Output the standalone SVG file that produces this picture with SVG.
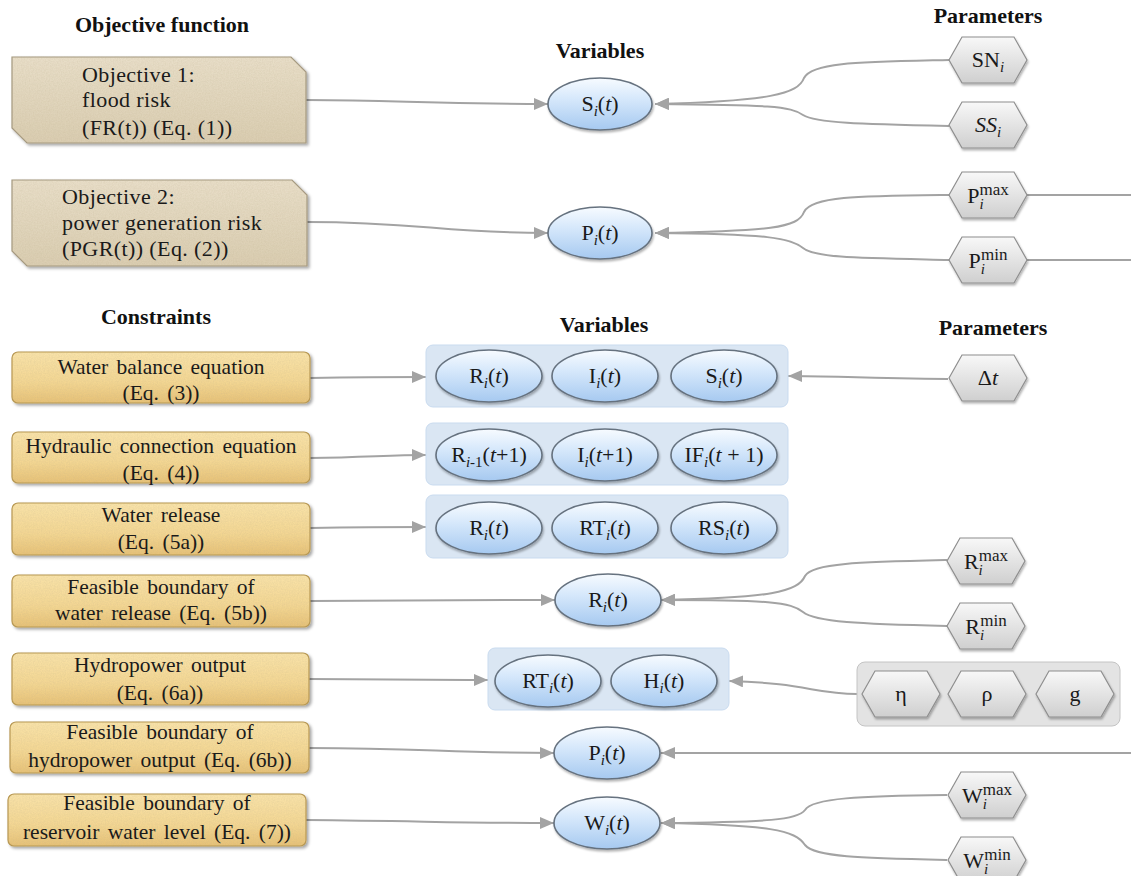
<svg xmlns="http://www.w3.org/2000/svg" width="1131" height="876" viewBox="0 0 1131 876">
<defs>
<style>
.h{font:bold 22px "Liberation Serif",serif;fill:#111;text-anchor:middle}
.t{font:22px "Liberation Serif",serif;fill:#1a1a1a;letter-spacing:0.4px}
.c{font:21.5px "Liberation Serif",serif;fill:#1a1a1a;text-anchor:middle;word-spacing:3px}
.v{font:22px "Liberation Serif",serif;fill:#1a1a1a;text-anchor:middle}
.it{font-style:italic}
.s{font-size:15px}
.u{font-size:17px}
.obj{fill:url(#gObj);stroke:#a49880;stroke-width:1.2;filter:url(#paper)}
.con{fill:url(#gCon);stroke:#b8974f;stroke-width:1.2;filter:url(#paper)}
.ell{fill:url(#gEll);stroke:#66727f;stroke-width:1.6;filter:url(#sh)}
.grp{fill:#dae6f3;stroke:#c9dbef;stroke-width:1}
.hex{fill:url(#gHex);stroke:#8e8e8e;stroke-width:1.2;filter:url(#sh)}
.pg{fill:#e3e3e3;stroke:#c4c4c4;stroke-width:1}
.ln{fill:none;stroke:#a3a3a3;stroke-width:2}
.ar{marker-end:url(#ah)}
</style>
<linearGradient id="gObj" x1="0" y1="0" x2="0" y2="1"><stop offset="0" stop-color="#e8dec8"/><stop offset="1" stop-color="#dacdb1"/></linearGradient>
<linearGradient id="gCon" x1="0" y1="0" x2="0" y2="1"><stop offset="0" stop-color="#f9e3a9"/><stop offset="0.6" stop-color="#f3d692"/><stop offset="1" stop-color="#e6c176"/></linearGradient>
<linearGradient id="gEll" x1="0" y1="0" x2="0" y2="1"><stop offset="0" stop-color="#f7fbff"/><stop offset="0.4" stop-color="#d6e8fb"/><stop offset="1" stop-color="#a6c9f0"/></linearGradient>
<linearGradient id="gHex" x1="0" y1="0" x2="0" y2="1"><stop offset="0" stop-color="#f8f8f8"/><stop offset="1" stop-color="#cfcfcf"/></linearGradient>
<filter id="sh" x="-10%" y="-15%" width="125%" height="140%">
<feGaussianBlur in="SourceAlpha" stdDeviation="1.2"/><feOffset dx="1" dy="2" result="o"/>
<feFlood flood-color="#000" flood-opacity="0.3"/><feComposite in2="o" operator="in" result="s"/>
<feMerge><feMergeNode in="s"/><feMergeNode in="SourceGraphic"/></feMerge>
</filter>
<filter id="paper" x="-5%" y="-10%" width="112%" height="130%">
<feTurbulence type="fractalNoise" baseFrequency="0.75" numOctaves="3" seed="4" result="n"/>
<feColorMatrix in="n" type="matrix" values="0 0 0 0 0.5 0 0 0 0 0.42 0 0 0 0 0.25 0 0 0 0.4 -0.12" result="c"/>
<feComposite in="c" in2="SourceAlpha" operator="in" result="tex"/>
<feGaussianBlur in="SourceAlpha" stdDeviation="1.5"/><feOffset dx="1.5" dy="2" result="o"/>
<feFlood flood-color="#000" flood-opacity="0.35"/><feComposite in2="o" operator="in" result="shadow"/>
<feMerge><feMergeNode in="shadow"/><feMergeNode in="SourceGraphic"/><feMergeNode in="tex"/></feMerge>
</filter>
<marker id="ah" viewBox="0 0 14 12" refX="14" refY="6" markerWidth="14" markerHeight="12" markerUnits="userSpaceOnUse" orient="auto"><path d="M0,0 L14,6 L0,12 Z" fill="#a3a3a3"/></marker>
<polygon id="hexs" points="-39,0 -26,-23 26,-23 39,0 26,23 -26,23"/>
</defs>
<rect width="1131" height="876" fill="#fff"/>

<g id="headings">
<text class="h" x="162" y="32">Objective function</text>
<text class="h" x="600" y="58">Variables</text>
<text class="h" x="988" y="23">Parameters</text>
<text class="h" x="156" y="324">Constraints</text>
<text class="h" x="604" y="332">Variables</text>
<text class="h" x="993" y="335">Parameters</text>
</g>

<g id="connectors">
<path class="ln ar" d="M306,100 C400,100 420,104 548,104"/>
<path class="ln ar" d="M307,222 C420,222 440,233 548,233"/>
<path class="ln ar" d="M949,60 C860,62 812,62 804,78 C798,94 770,101 655,104"/>
<path class="ln ar" d="M949,126 C860,124 815,123 803,115 C790,106 770,105 655,104"/>
<path class="ln ar" d="M949,195 C860,196 812,196 804,212 C798,228 770,231 655,233"/>
<path class="ln ar" d="M949,260 C860,258 815,258 803,248 C790,238 770,234 655,233"/>
<path class="ln" d="M1027,195 H1131"/>
<path class="ln" d="M1027,260 H1131"/>
<path class="ln ar" d="M310,378 C370,377 390,377 426,377"/>
<path class="ln ar" d="M310,458 C370,457 390,455 426,455"/>
<path class="ln ar" d="M310,528 C370,527 390,527 426,527"/>
<path class="ln ar" d="M948,379 C860,378 830,376 788,376"/>
<path class="ln ar" d="M310,601 C420,600 480,600 555,600"/>
<path class="ln ar" d="M947,560 C860,562 812,563 805,576 C798,592 770,598 661,600"/>
<path class="ln ar" d="M947,626 C860,624 815,622 803,612 C790,602 770,600 661,600"/>
<path class="ln ar" d="M309,679 C400,679 440,680 488,680"/>
<path class="ln ar" d="M857,694 C815,694 805,683 729,681"/>
<path class="ln ar" d="M309,748 C420,748 450,753 554,753"/>
<path class="ln ar" d="M1131,753 H661"/>
<path class="ln ar" d="M306,820 C420,821 460,823 554,823"/>
<path class="ln ar" d="M947,795 C860,796 812,798 805,810 C798,820 770,822 661,823"/>
<path class="ln ar" d="M947,860 C860,858 815,857 805,845 C795,830 770,825 661,823"/>
</g>

<g id="obj1">
<path class="obj" d="M12,57 H291 L306,72 V143 H27 L12,128 Z"/>
<text class="t" x="82" y="82">Objective 1:</text>
<text class="t" x="82" y="107">flood risk</text>
<text class="t" x="82" y="135">(FR(t)) (Eq. (1))</text>
</g>
<g id="obj2">
<path class="obj" d="M12,180 H292 L307,195 V266 H27 L12,251 Z"/>
<text class="t" x="62" y="204">Objective 2:</text>
<text class="t" x="62" y="230">power generation risk</text>
<text class="t" x="62" y="256">(PGR(t)) (Eq. (2))</text>
</g>

<g id="var-S-top"><ellipse class="ell" cx="600" cy="104" rx="52" ry="26"/>
<text class="v" x="600" y="111">S<tspan class="s it" dy="5">i</tspan><tspan dy="-5">(</tspan><tspan class="it">t</tspan>)</text></g>
<g id="var-P-top"><ellipse class="ell" cx="600" cy="233" rx="52" ry="26"/>
<text class="v" x="600" y="240">P<tspan class="s it" dy="5">i</tspan><tspan dy="-5">(</tspan><tspan class="it">t</tspan>)</text></g>

<g id="par-SN"><use href="#hexs" class="hex" x="988" y="60"/>
<text class="v" x="988" y="67">SN<tspan class="s it" dy="5">i</tspan></text></g>
<g id="par-SS"><use href="#hexs" class="hex" x="988" y="125"/>
<text class="v" x="988" y="132"><tspan class="it">SS</tspan><tspan class="s it" dy="5">i</tspan></text></g>
<g id="par-Pmax"><use href="#hexs" class="hex" x="988" y="195"/>
<text class="v" x="988" y="203">P<tspan class="s it" dy="6">i</tspan><tspan class="u" dx="-4" dy="-14">max</tspan></text></g>
<g id="par-Pmin"><use href="#hexs" class="hex" x="988" y="260"/>
<text class="v" x="988" y="268">P<tspan class="s it" dy="6">i</tspan><tspan class="u" dx="-4" dy="-14">min</tspan></text></g>

<g id="con1"><rect class="con" x="12" y="352" width="298" height="51" rx="6"/>
<text class="c" x="161" y="374">Water balance equation</text><text class="c" x="161" y="400">(Eq. (3))</text></g>
<g id="con2"><rect class="con" x="12" y="432" width="298" height="51" rx="6"/>
<text class="c" x="161" y="453">Hydraulic connection equation</text><text class="c" x="161" y="480">(Eq. (4))</text></g>
<g id="con3"><rect class="con" x="12" y="503" width="298" height="52" rx="6"/>
<text class="c" x="161" y="522">Water release</text><text class="c" x="161" y="549">(Eq. (5a))</text></g>
<g id="con4"><rect class="con" x="12" y="575" width="298" height="52" rx="6"/>
<text class="c" x="161" y="594">Feasible boundary of</text><text class="c" x="161" y="620">water release (Eq. (5b))</text></g>
<g id="con5"><rect class="con" x="12" y="653" width="297" height="52" rx="6"/>
<text class="c" x="160" y="672">Hydropower output</text><text class="c" x="160" y="700">(Eq. (6a))</text></g>
<g id="con6"><rect class="con" x="10" y="722" width="299" height="51" rx="6"/>
<text class="c" x="160" y="739">Feasible boundary of</text><text class="c" x="160" y="767">hydropower output (Eq. (6b))</text></g>
<g id="con7"><rect class="con" x="8" y="794" width="298" height="52" rx="6"/>
<text class="c" x="157" y="810">Feasible boundary of</text><text class="c" x="157" y="839">reservoir water level (Eq. (7))</text></g>

<g id="vg1"><rect class="grp" x="426" y="345" width="362" height="62" rx="7"/>
<ellipse class="ell" cx="489" cy="376" rx="53" ry="26"/>
<text class="v" x="489" y="383">R<tspan class="s it" dy="5">i</tspan><tspan dy="-5">(</tspan><tspan class="it">t</tspan>)</text>
<ellipse class="ell" cx="605" cy="376" rx="53" ry="26"/>
<text class="v" x="605" y="383">I<tspan class="s it" dy="5">i</tspan><tspan dy="-5">(</tspan><tspan class="it">t</tspan>)</text>
<ellipse class="ell" cx="724" cy="376" rx="53" ry="26"/>
<text class="v" x="724" y="383">S<tspan class="s it" dy="5">i</tspan><tspan dy="-5">(</tspan><tspan class="it">t</tspan>)</text>
</g>
<g id="vg2"><rect class="grp" x="426" y="423" width="362" height="62" rx="7"/>
<ellipse class="ell" cx="489" cy="455" rx="53" ry="26"/>
<text class="v" x="489" y="462">R<tspan class="s" dy="5"><tspan class="it">i</tspan>-1</tspan><tspan dy="-5">(</tspan><tspan class="it">t</tspan>+1)</text>
<ellipse class="ell" cx="605" cy="455" rx="53" ry="26"/>
<text class="v" x="605" y="462">I<tspan class="s it" dy="5">i</tspan><tspan dy="-5">(</tspan><tspan class="it">t</tspan>+1)</text>
<ellipse class="ell" cx="724" cy="455" rx="53" ry="26"/>
<text class="v" x="724" y="462">IF<tspan class="s it" dy="5">i</tspan><tspan dy="-5">(</tspan><tspan class="it">t</tspan> + 1)</text>
</g>
<g id="vg3"><rect class="grp" x="426" y="495" width="362" height="63" rx="7"/>
<ellipse class="ell" cx="489" cy="528" rx="53" ry="26"/>
<text class="v" x="489" y="535">R<tspan class="s it" dy="5">i</tspan><tspan dy="-5">(</tspan><tspan class="it">t</tspan>)</text>
<ellipse class="ell" cx="605" cy="528" rx="53" ry="26"/>
<text class="v" x="605" y="535">RT<tspan class="s it" dy="5">i</tspan><tspan dy="-5">(</tspan><tspan class="it">t</tspan>)</text>
<ellipse class="ell" cx="724" cy="528" rx="53" ry="26"/>
<text class="v" x="724" y="535">RS<tspan class="s it" dy="5">i</tspan><tspan dy="-5">(</tspan><tspan class="it">t</tspan>)</text>
</g>
<g id="var-R"><ellipse class="ell" cx="608" cy="600" rx="53" ry="26"/>
<text class="v" x="608" y="607">R<tspan class="s it" dy="5">i</tspan><tspan dy="-5">(</tspan><tspan class="it">t</tspan>)</text></g>
<g id="vg4"><rect class="grp" x="488" y="648" width="241" height="62" rx="7"/>
<ellipse class="ell" cx="548" cy="681" rx="53" ry="26"/>
<text class="v" x="548" y="688">RT<tspan class="s it" dy="5">i</tspan><tspan dy="-5">(</tspan><tspan class="it">t</tspan>)</text>
<ellipse class="ell" cx="664" cy="681" rx="53" ry="26"/>
<text class="v" x="664" y="688">H<tspan class="s it" dy="5">i</tspan><tspan dy="-5">(</tspan><tspan class="it">t</tspan>)</text>
</g>
<g id="var-P"><ellipse class="ell" cx="607" cy="753" rx="53" ry="26"/>
<text class="v" x="607" y="760">P<tspan class="s it" dy="5">i</tspan><tspan dy="-5">(</tspan><tspan class="it">t</tspan>)</text></g>
<g id="var-W"><ellipse class="ell" cx="607" cy="823" rx="53" ry="26"/>
<text class="v" x="607" y="830">W<tspan class="s it" dy="5">i</tspan><tspan dy="-5">(</tspan><tspan class="it">t</tspan>)</text></g>

<g id="par-dt"><use href="#hexs" class="hex" x="988" y="378"/>
<text class="v" x="988" y="385">Δ<tspan class="it">t</tspan></text></g>
<g id="par-Rmax"><use href="#hexs" class="hex" x="986" y="561"/>
<text class="v" x="986" y="569">R<tspan class="s it" dy="6">i</tspan><tspan class="u" dx="-4" dy="-14">max</tspan></text></g>
<g id="par-Rmin"><use href="#hexs" class="hex" x="986" y="626"/>
<text class="v" x="986" y="634">R<tspan class="s it" dy="6">i</tspan><tspan class="u" dx="-4" dy="-14">min</tspan></text></g>
<g id="par-group"><rect class="pg" x="857" y="662" width="263" height="64" rx="8"/>
<use href="#hexs" class="hex" x="901" y="694"/><text class="v" x="901" y="701">η</text>
<use href="#hexs" class="hex" x="987" y="694"/><text class="v" x="987" y="701">ρ</text>
<use href="#hexs" class="hex" x="1075" y="694"/><text class="v" x="1075" y="701">g</text>
</g>
<g id="par-Wmax"><use href="#hexs" class="hex" x="987" y="795"/>
<text class="v" x="987" y="803">W<tspan class="s it" dy="6">i</tspan><tspan class="u" dx="-4" dy="-14">max</tspan></text></g>
<g id="par-Wmin"><use href="#hexs" class="hex" x="987" y="860"/>
<text class="v" x="987" y="868">W<tspan class="s it" dy="6">i</tspan><tspan class="u" dx="-4" dy="-14">min</tspan></text></g>
</svg>
